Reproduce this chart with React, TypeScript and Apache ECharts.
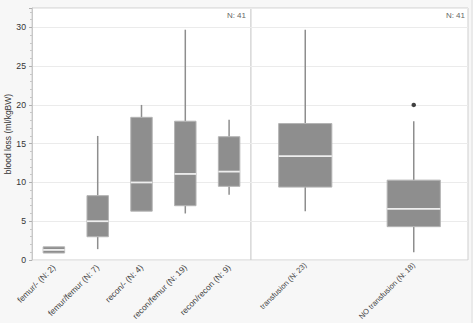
import React, { useEffect, useRef } from "react";
import * as echarts from "echarts";

// Left panel: surgery groups
const groupCategories = [
  "femur/- (N: 2)",
  "femur/femur (N: 7)",
  "recon/- (N: 4)",
  "recon/femur (N: 19)",
  "recon/recon (N: 9)",
];
// [min, q1, median, q3, max]
const groupStats = [
  [0.9, 0.9, 1.3, 1.7, 1.7],
  [1.4, 3.0, 5.0, 8.3, 16.0],
  [6.3, 6.3, 10.0, 18.4, 20.0],
  [6.0, 7.0, 11.1, 17.9, 29.7],
  [8.4, 9.5, 11.4, 15.9, 18.1],
];

// Right panel: transfusion
const transfusionCategories = ["transfusion (N: 23)", "NO transfusion (N: 18)"];
const transfusionStats = [
  [6.3, 9.4, 13.4, 17.6, 29.7],
  [1.0, 4.3, 6.6, 10.3, 17.9],
];
const transfusionOutliers = [[1, 20.0]];

const yTicks = [0, 5, 10, 15, 20, 25, 30];
const panelN = ["N: 41", "N: 41"];

const FONT = "Liberation Sans, Arial, Helvetica, sans-serif";
const BOX_FILL = "#8e8e8e";

function renderBox(params: any, api: any) {
  const x = api.value(0);
  const vMin = api.value(1);
  const q1 = api.value(2);
  const med = api.value(3);
  const q3 = api.value(4);
  const vMax = api.value(5);
  const pMin = api.coord([x, vMin]);
  const pQ1 = api.coord([x, q1]);
  const pMed = api.coord([x, med]);
  const pQ3 = api.coord([x, q3]);
  const pMax = api.coord([x, vMax]);
  const bw = api.size([1, 0])[0] * 0.49;
  const cx = pMed[0];
  const children: any[] = [];
  if (pMax[1] < pQ3[1]) {
    children.push({
      type: "line",
      shape: { x1: cx, y1: pMax[1], x2: cx, y2: pQ3[1] },
      style: { stroke: BOX_FILL, lineWidth: 1.5 },
    });
  }
  if (pMin[1] > pQ1[1]) {
    children.push({
      type: "line",
      shape: { x1: cx, y1: pQ1[1], x2: cx, y2: pMin[1] },
      style: { stroke: BOX_FILL, lineWidth: 1.5 },
    });
  }
  children.push({
    type: "rect",
    shape: { x: cx - bw / 2, y: pQ3[1], width: bw, height: pQ1[1] - pQ3[1] },
    style: { fill: BOX_FILL, stroke: "#b4b4b4", lineWidth: 1 },
  });
  children.push({
    type: "line",
    shape: { x1: cx - bw / 2, y1: pMed[1], x2: cx + bw / 2, y2: pMed[1] },
    style: { stroke: "#eeeeee", lineWidth: 1.8 },
  });
  return { type: "group", children };
}

export default function App() {
  const ref = useRef<HTMLDivElement>(null);
  useEffect(() => {
    if (!ref.current) return;
    const chart = echarts.init(ref.current, undefined, { renderer: "svg" });
    const yMax = 32.5;
    const yAxisBase = (gridIndex: number, showLabels: boolean) => ({
      type: "value",
      gridIndex,
      min: 0,
      max: yMax,
      interval: 5,
      axisLine: { show: showLabels, lineStyle: { color: "#c8c8c8" } },
      axisTick: { show: showLabels, length: 3, lineStyle: { color: "#b0b0b0" } },
      minorTick: { show: showLabels, splitNumber: 5, length: 2, lineStyle: { color: "#c8c8c8" } },
      axisLabel: {
        show: showLabels,
        fontSize: 8.7,
        color: "#333",
        fontFamily: FONT,
        margin: 6,
        showMaxLabel: false,
        formatter: (v: number) => (yTicks.includes(v) ? String(v) : ""),
      },
      splitLine: { show: true, lineStyle: { color: "#ebebeb", width: 1 } },
      name: showLabels ? "blood loss (ml/kgBW)" : "",
      nameLocation: "middle",
      nameRotate: 90,
      nameGap: 19,
      nameTextStyle: { fontSize: 8.5, color: "#333", fontFamily: FONT },
    });
    const xAxisBase = (gridIndex: number, data: string[], fontSize: number, margin: number) => ({
      type: "category",
      gridIndex,
      data,
      boundaryGap: true,
      axisLine: { show: false },
      axisTick: { show: false },
      axisLabel: {
        rotate: 45,
        interval: 0,
        fontSize,
        color: "#444",
        fontFamily: FONT,
        margin,
      },
      splitLine: { show: false },
    });
    chart.setOption({
      animation: false,
      backgroundColor: "#f7f7f7",
      grid: [
        { left: 32, top: 8, width: 219, height: 252, show: true, backgroundColor: "#ffffff", borderColor: "#cfcfcf", borderWidth: 1, containLabel: false, outerBoundsMode: "none" },
        { left: 251, top: 8, width: 217, height: 252, show: true, backgroundColor: "#ffffff", borderColor: "#cfcfcf", borderWidth: 1, containLabel: false, outerBoundsMode: "none" },
      ],
      xAxis: [
        xAxisBase(0, groupCategories, 8.4, 6),
        xAxisBase(1, transfusionCategories, 7.6, 4),
      ],
      yAxis: [yAxisBase(0, true), yAxisBase(1, false)],
      series: [
        {
          type: "custom",
          xAxisIndex: 0,
          yAxisIndex: 0,
          renderItem: renderBox,
          encode: { x: 0, y: [1, 2, 3, 4, 5] },
          data: groupStats.map((s, i) => [i, ...s]),
        },
        {
          type: "custom",
          xAxisIndex: 1,
          yAxisIndex: 1,
          renderItem: renderBox,
          encode: { x: 0, y: [1, 2, 3, 4, 5] },
          data: transfusionStats.map((s, i) => [i, ...s]),
        },
        {
          type: "scatter",
          xAxisIndex: 1,
          yAxisIndex: 1,
          symbol: "circle",
          symbolSize: 4.5,
          itemStyle: { color: "#111111" },
          data: transfusionOutliers,
        },
      ],
      graphic: [
        {
          type: "text",
          right: 473 - 246,
          top: 11,
          style: { text: panelN[0], fontSize: 8, fill: "#666", fontFamily: FONT },
        },
        {
          type: "text",
          right: 473 - 465,
          top: 11,
          style: { text: panelN[1], fontSize: 8, fill: "#666", fontFamily: FONT },
        },
        {
          type: "rect",
          shape: { x: 471.5, y: 0, width: 1, height: 323 },
          style: { fill: "#dddddd" },
        },
      ],
    });
    return () => chart.dispose();
  }, []);
  return (
    <div
      ref={ref}
      style={{ position: "fixed", left: 0, top: 0, width: 473, height: 323 }}
    />
  );
}
